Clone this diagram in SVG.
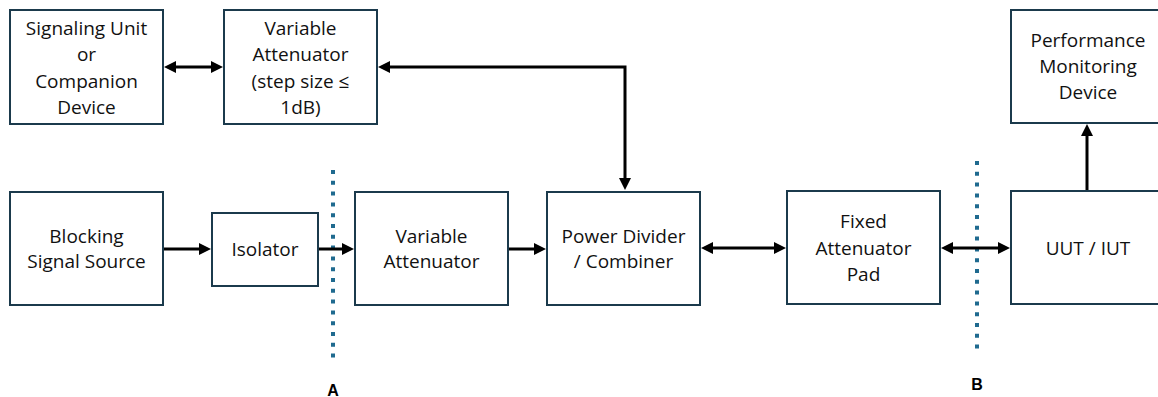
<svg xmlns="http://www.w3.org/2000/svg" width="1158" height="397" viewBox="0 0 1158 397">
<defs>
<style>
.box{fill:#ffffff;stroke:#1b3a4c;stroke-width:2}
.t{font-family:"Open Sans","Liberation Sans",sans-serif;font-size:19px;fill:#111111;text-anchor:middle}
.c{fill:none;stroke:#000;stroke-width:3}
.dot{fill:none;stroke:#1f6a8f;stroke-width:4;stroke-dasharray:4 6.8}
.lbl{font-family:"Liberation Sans",Arial,sans-serif;font-size:16px;font-weight:bold;fill:#000;text-anchor:middle}
</style>
<marker id="ah" markerUnits="userSpaceOnUse" viewBox="0 0 12 12" markerWidth="12" markerHeight="12" refX="8" refY="6" orient="auto-start-reverse">
<path d="M0,0 L12,6 L0,12 z" fill="#000"/>
</marker>
</defs>
<rect width="1158" height="397" fill="#ffffff"/>

<g id="n-signaling">
<rect class="box" x="10" y="10" width="153" height="114"/>
<text class="t" x="86.5" y="35">Signaling Unit</text>
<text class="t" x="86.5" y="61">or</text>
<text class="t" x="86.5" y="87.5">Companion</text>
<text class="t" x="86.5" y="114">Device</text>
</g>
<g id="n-varatt-top">
<rect class="box" x="224" y="10" width="153" height="114"/>
<text class="t" x="300.5" y="35">Variable</text>
<text class="t" x="300.5" y="61">Attenuator</text>
<text class="t" x="300.5" y="87.5">(step size ≤</text>
<text class="t" x="300.5" y="114">1dB)</text>
</g>
<g id="n-perf">
<rect class="box" x="1011" y="10" width="160" height="113"/>
<text class="t" x="1088" y="47">Performance</text>
<text class="t" x="1088" y="73">Monitoring</text>
<text class="t" x="1088" y="99">Device</text>
</g>
<g id="n-blocking">
<rect class="box" x="10" y="192" width="153" height="113"/>
<text class="t" x="86.5" y="243">Blocking</text>
<text class="t" x="86.5" y="268">Signal Source</text>
</g>
<g id="n-isolator">
<rect class="box" x="212" y="213" width="106" height="73"/>
<text class="t" x="265" y="256">Isolator</text>
</g>
<g id="n-varatt">
<rect class="box" x="355" y="192" width="153" height="113"/>
<text class="t" x="431.5" y="243">Variable</text>
<text class="t" x="431.5" y="268">Attenuator</text>
</g>
<g id="n-divider">
<rect class="box" x="547" y="192" width="153" height="113"/>
<text class="t" x="623.5" y="243">Power Divider</text>
<text class="t" x="623.5" y="268">/ Combiner</text>
</g>
<g id="n-fixed">
<rect class="box" x="787" y="191" width="153" height="113"/>
<text class="t" x="863.5" y="228">Fixed</text>
<text class="t" x="863.5" y="254.5">Attenuator</text>
<text class="t" x="863.5" y="281">Pad</text>
</g>
<g id="n-uut">
<rect class="box" x="1011" y="191" width="160" height="113"/>
<text class="t" x="1088" y="255">UUT / IUT</text>
</g>

<g id="ref-lines">
<line class="dot" x1="333" y1="170" x2="333" y2="361"/>
<line class="dot" x1="977" y1="161" x2="977" y2="350"/>
<text class="lbl" x="333" y="396">A</text>
<text class="lbl" x="977" y="390">B</text>
</g>

<g id="connectors">
<line class="c" x1="168" y1="67" x2="219" y2="67" marker-start="url(#ah)" marker-end="url(#ah)"/>
<path class="c" d="M382,67 H625 V186" marker-start="url(#ah)" marker-end="url(#ah)"/>
<line class="c" x1="1087" y1="190" x2="1087" y2="128" marker-end="url(#ah)"/>
<line class="c" x1="164" y1="249" x2="207" y2="249" marker-end="url(#ah)"/>
<line class="c" x1="319" y1="249" x2="350" y2="249" marker-end="url(#ah)"/>
<line class="c" x1="509" y1="249" x2="542" y2="249" marker-end="url(#ah)"/>
<line class="c" x1="705" y1="248" x2="782" y2="248" marker-start="url(#ah)" marker-end="url(#ah)"/>
<line class="c" x1="945" y1="248" x2="1006" y2="248" marker-start="url(#ah)" marker-end="url(#ah)"/>
</g>
</svg>
